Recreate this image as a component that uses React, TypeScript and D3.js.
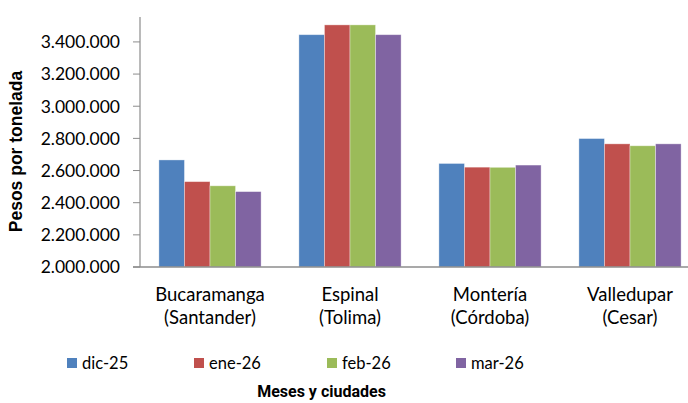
import React from "react";
import * as d3 from "d3";

const categories = [["Bucaramanga", "(Santander)"], ["Espinal", "(Tolima)"], ["Montería", "(Córdoba)"], ["Valledupar", "(Cesar)"]];
const seriesNames = ["dic-25", "ene-26", "feb-26", "mar-26"];
const colors = ["#4F81BD", "#C0504D", "#9BBB59", "#8064A2"];
const dic25 = [2666000, 3445000, 2644000, 2799000];
const ene26 = [2531000, 3506000, 2621000, 2766000];
const feb26 = [2505000, 3506000, 2620000, 2754000];
const mar26 = [2469000, 3445000, 2634000, 2766000];
const seriesValues = [dic25, ene26, feb26, mar26];
const yTicks = [2000000, 2200000, 2400000, 2600000, 2800000, 3000000, 3200000, 3400000];

const W = 688, H = 403;
const left = 140, right = 700, top = 17, bottom = 267;

export default function App() {
  const x0 = d3.scaleBand<number>().domain([0, 1, 2, 3]).range([left, right]).paddingInner(0).paddingOuter(0);
  const groupW = x0.bandwidth() * 0.73;
  const x1 = d3.scaleBand<number>().domain([0, 1, 2, 3]).range([0, groupW]);
  const y = d3.scaleLinear().domain([2000000, 3555000]).range([bottom, top]);
  const fmt = (v: number) => d3.format(",")(v).replace(/,/g, ".");
  const legendX = [67, 194, 327, 456];
  return (
    <svg width={W} height={H} style={{ position: "absolute", left: 0, top: 0, background: "#fff" }}>
      {seriesValues.map((vals, s) =>
        vals.map((v, i) => {
          const bx = (x0(i) as number) + (x0.bandwidth() - groupW) / 2 + (x1(s) as number);
          return (
            <rect key={`${s}-${i}`} x={bx} y={y(v)} width={x1.bandwidth()} height={bottom - y(v)}
              fill={colors[s]} stroke="rgba(255,255,255,0.45)" strokeWidth={0.8} />
          );
        })
      )}
      <line x1={left} x2={left} y1={top} y2={bottom} stroke="#8c8c8c" strokeWidth={1.2} />
      <line x1={left - 7} x2={W} y1={bottom} y2={bottom} stroke="#8c8c8c" strokeWidth={1.5} />
      {yTicks.map((t) => (
        <g key={t}>
          <line x1={left - 7} x2={left} y1={y(t)} y2={y(t)} stroke="#8c8c8c" strokeWidth={1} />
          <text x={120} y={y(t)} dy="0.36em" textAnchor="end" fontFamily="Lato" fontSize={17.5} fill="#000">{fmt(t)}</text>
        </g>
      ))}
      {categories.map((c, i) => {
        const cx = (x0(i) as number) + x0.bandwidth() / 2;
        return (
          <g key={i}>
            <text x={cx} y={300.5} textAnchor="middle" fontFamily="Lato" fontSize={18.5} fill="#000">{c[0]}</text>
            <text x={cx} y={323.5} textAnchor="middle" fontFamily="Lato" fontSize={18.5} fill="#000">{c[1]}</text>
          </g>
        );
      })}
      <text transform={`translate(22,151.5) rotate(-90)`} textAnchor="middle" fontFamily="Liberation Sans" fontWeight="bold" fontSize={17.5} fill="#000">Pesos por tonelada</text>
      {seriesNames.map((n, s) => (
        <g key={n}>
          <rect x={legendX[s]} y={358} width={10} height={10} fill={colors[s]} />
          <text x={legendX[s] + 15} y={363} dy="0.36em" fontFamily="Lato" fontSize={16.5} fill="#000">{n}</text>
        </g>
      ))}
      <text x={321.5} y={397} textAnchor="middle" fontFamily="Roboto" fontWeight="bold" fontSize={16} fill="#000">Meses y ciudades</text>
    </svg>
  );
}
